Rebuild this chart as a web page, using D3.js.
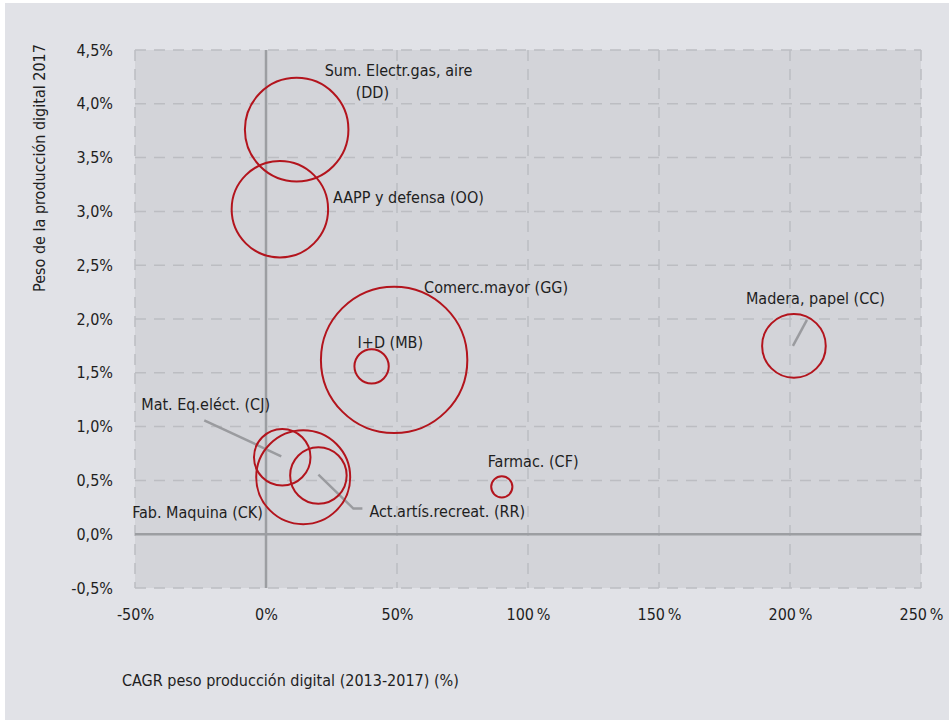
<!DOCTYPE html>
<html>
<head>
<meta charset="utf-8">
<script src="https://cdn.jsdelivr.net/npm/d3@7"></script>
<style>
  html, body { margin: 0; padding: 0; background: #ffffff; }
  svg text {
    font-family: "Liberation Sans Narrow", "DejaVu Sans Condensed", "Roboto Condensed", "Open Sans", sans-serif;
    font-stretch: condensed;
    fill: #1e1e1e;
  }
</style>
</head>
<body>
<svg id="chart" width="949" height="720"></svg>
<script>
// Sector codes and their labels
const codes = ["DD", "OO", "GG", "MB", "CC", "CF", "CJ", "CK", "RR"];
const labels = [
  ["Sum. Electr.gas, aire", "(DD)"],
  ["AAPP y defensa (OO)"],
  ["Comerc.mayor (GG)"],
  ["I+D (MB)"],
  ["Madera, papel (CC)"],
  ["Farmac. (CF)"],
  ["Mat. Eq.eléct. (CJ)"],
  ["Fab. Maquina (CK)"],
  ["Act.artís.recreat. (RR)"]
];
// CAGR of the digital production share 2013-2017 (%)
const cagr = [11.7, 5.3, 48.9, 40.3, 201.5, 90.0, 6.2, 14.2, 20.0];
// Share of digital production 2017 (%)
const share = [3.76, 3.02, 1.62, 1.56, 1.75, 0.44, 0.715, 0.53, 0.545];
// Relative bubble size
const bubbleSize = [50, 43.4, 100, 5.5, 18.9, 2.1, 14.9, 41.2, 14.9];

const xTicks = [-50, 0, 50, 100, 150, 200, 250];
const yTicks = [-0.5, 0, 0.5, 1, 1.5, 2, 2.5, 3, 3.5, 4, 4.5];
const xTickLabels = ["-50%", "0%", "50%", "100\u2009%", "150\u2009%", "200\u2009%", "250\u2009%"];
const yTickLabels = ["-0,5%", "0,0%", "0,5%", "1,0%", "1,5%", "2,0%", "2,5%", "3,0%", "3,5%", "4,0%", "4,5%"];

// Label placement relative to each bubble centre (pixels), plus optional leader lines
const labelLayout = {
  DD: { dx: 28, dy: -54, lines: [[0, 0], [31, 22]] },
  OO: { dx: 53, dy: -6 },
  GG: { dx: 30, dy: -67 },
  MB: { dx: -14, dy: -18 },
  CC: { dx: -48, dy: -42, leader: [[13, -26], [-1, 0]] },
  CF: { dx: -14, dy: -20 },
  CJ: { dx: -141, dy: -47, leader: [[-78, -37], [-1, -1]] },
  CK: { dx: -171, dy: 41 },
  RR: { dx: 51, dy: 41, leader: [[0, -1], [35, 33], [44, 33]] }
};

const W = 949, H = 720;
const margin = { left: 135, right: 28, top: 50, bottom: 132 };

const svg = d3.select("#chart");

// page background
svg.append("rect").attr("x", 5).attr("y", 3).attr("width", W - 5).attr("height", H - 3)
  .attr("fill", "#e1e2e7");

const x = d3.scaleLinear().domain([-50, 250]).range([margin.left, W - margin.right]);
const y = d3.scaleLinear().domain([-0.5, 4.5]).range([H - margin.bottom, margin.top]);
const r = d3.scaleSqrt().domain([0, 100]).range([0, 73.2]);

// plot background
svg.append("rect")
  .attr("x", x(-50)).attr("y", y(4.5))
  .attr("width", x(250) - x(-50)).attr("height", y(-0.5) - y(4.5))
  .attr("fill", "#d3d4d9");

// dashed grid
const grid = svg.append("g").attr("stroke", "#bcbdc2").attr("stroke-width", 1.5)
  .attr("stroke-dasharray", "11,8");
grid.selectAll("line.gx").data(xTicks).join("line")
  .attr("x1", d => x(d)).attr("x2", d => x(d))
  .attr("y1", y(4.5)).attr("y2", y(-0.5));
grid.selectAll("line.gy").data(yTicks).join("line")
  .attr("y1", d => y(d)).attr("y2", d => y(d))
  .attr("x1", x(-50)).attr("x2", x(250));

// zero lines
svg.append("line").attr("x1", x(0)).attr("x2", x(0)).attr("y1", y(4.5)).attr("y2", y(-0.5))
  .attr("stroke", "#9c9ea2").attr("stroke-width", 2.5);
svg.append("line").attr("x1", x(-50)).attr("x2", x(250)).attr("y1", y(0)).attr("y2", y(0))
  .attr("stroke", "#9c9ea2").attr("stroke-width", 2.5);

// axes
const xAxis = d3.axisBottom(x).tickValues(xTicks).tickSize(0).tickPadding(21)
  .tickFormat((d, i) => xTickLabels[i]);
const gx = svg.append("g").attr("transform", `translate(0,${y(-0.5)})`).call(xAxis);
gx.select(".domain").remove();
gx.selectAll("text").attr("font-size", 16).attr("fill", "#1e1e1e");

const yAxis = d3.axisLeft(y).tickValues(yTicks).tickSize(0).tickPadding(22)
  .tickFormat((d, i) => yTickLabels[i]);
const gy = svg.append("g").attr("transform", `translate(${x(-50)},0)`).call(yAxis);
gy.select(".domain").remove();
gy.selectAll("text").attr("font-size", 16).attr("fill", "#1e1e1e");

// axis titles
svg.append("text").attr("x", 122).attr("y", 686).attr("font-size", 16)
  .text("CAGR peso producción digital (2013-2017) (%)");
svg.append("text").attr("transform", "translate(45,168) rotate(-90)")
  .attr("text-anchor", "middle").attr("font-size", 16)
  .text("Peso de la producción digital 2017");

const data = codes.map((c, i) => ({
  code: c, label: labels[i], cx: cagr[i], cy: share[i], size: bubbleSize[i]
}));

// leader lines
const leaders = svg.append("g").attr("fill", "none").attr("stroke", "#9a9b9f").attr("stroke-width", 2.5);
data.filter(d => labelLayout[d.code].leader).forEach(d => {
  const px = x(d.cx), py = y(d.cy);
  leaders.append("path")
    .attr("d", d3.line()(labelLayout[d.code].leader.map(p => [px + p[0], py + p[1]])));
});

// bubbles
svg.append("g").selectAll("circle").data(data).join("circle")
  .attr("cx", d => x(d.cx)).attr("cy", d => y(d.cy)).attr("r", d => r(d.size))
  .attr("fill", "none").attr("stroke", "#b3141d").attr("stroke-width", 2);

// labels
const lab = svg.append("g");
data.forEach(d => {
  const L = labelLayout[d.code];
  const px = x(d.cx) + L.dx, py = y(d.cy) + L.dy;
  d.label.forEach((t, j) => {
    const off = L.lines ? L.lines[j] : [0, 0];
    lab.append("text").attr("x", px + off[0]).attr("y", py + off[1])
      .attr("font-size", 16).text(t);
  });
});
</script>
</body>
</html>
